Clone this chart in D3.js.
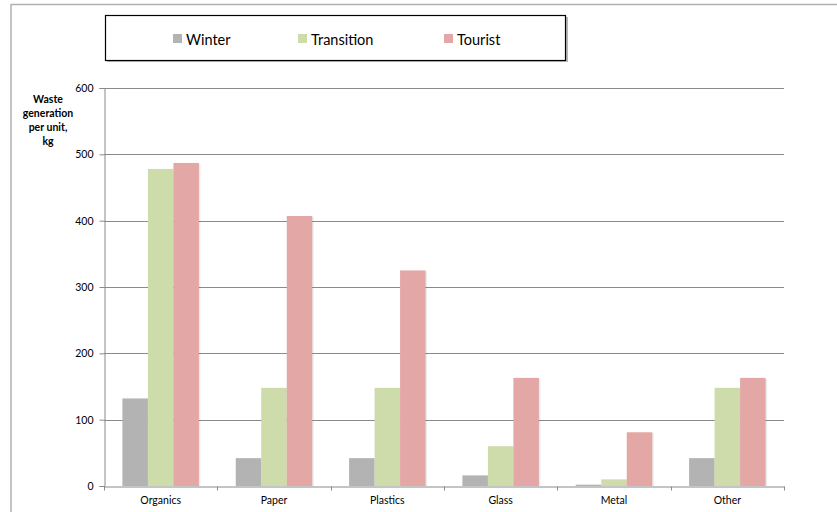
<!DOCTYPE html>
<html>
<head>
<meta charset="utf-8">
<script src="https://cdn.jsdelivr.net/npm/d3@7"></script>
<style>
  html, body { margin: 0; padding: 0; background: #fff; }
  svg { display: block; font-family: "Lato", "Open Sans", sans-serif; }
</style>
</head>
<body>
<svg id="chart" width="837" height="512"></svg>
<script>
// Waste generation per unit by material and season
const categories = ["Organics", "Paper", "Plastics", "Glass", "Metal", "Other"];
const seriesNames = ["Winter", "Transition", "Tourist"];
const winter     = [132, 42, 42, 16, 2, 42];
const transition = [478, 148, 148, 60, 10, 148];
const tourist    = [487, 407, 325, 163, 81, 163];
const yTicks = [0, 100, 200, 300, 400, 500, 600];
const colors = ["#b3b3b3", "#cddcaa", "#e3a8a6"];

const series = [winter, transition, tourist];

const svg = d3.select("#chart");
const W = 837, H = 512;
const plot = { left: 104, right: 784, top: 88, bottom: 486 };

// outer frame (top and left edges visible)
svg.append("line").attr("x1", 11).attr("x2", W).attr("y1", 4.5).attr("y2", 4.5)
  .attr("stroke", "#b0b0b0").attr("stroke-width", 1.5);
svg.append("line").attr("x1", 11).attr("x2", 11).attr("y1", 4).attr("y2", H)
  .attr("stroke", "#b0b0b0").attr("stroke-width", 1.5);

const x = d3.scaleBand().domain(categories).range([plot.left, plot.right]).paddingInner(0).paddingOuter(0);
const y = d3.scaleLinear().domain([0, 600]).range([plot.bottom, plot.top]);

// gridlines
svg.append("g").selectAll("line").data(yTicks.filter(d => d > 0)).join("line")
  .attr("x1", plot.left).attr("x2", plot.right)
  .attr("y1", d => Math.round(y(d)) + 0.5).attr("y2", d => Math.round(y(d)) + 0.5)
  .attr("stroke", "#8a8a8a").attr("stroke-width", 1);

// bars
const groupW = x.bandwidth() * 0.675;
const xs = d3.scaleBand().domain(seriesNames).range([0, groupW]);
const barG = svg.append("g");
categories.forEach((c, i) => {
  const x0 = x(c) + (x.bandwidth() - groupW) / 2;
  seriesNames.forEach((s, j) => {
    const v = series[j][i];
    const bx = x0 + xs(s);
    // soft shadow
    barG.append("rect")
      .attr("x", bx + 1.5).attr("y", y(v) + 1).attr("width", xs.bandwidth())
      .attr("height", y(0) - y(v) - 1).attr("fill", "#000").attr("opacity", 0.08);
    barG.append("rect")
      .attr("x", bx).attr("y", y(v)).attr("width", xs.bandwidth())
      .attr("height", y(0) - y(v)).attr("fill", colors[j]);
  });
});

// y axis
const yAxis = d3.axisLeft(y).tickValues(yTicks).tickSize(5).tickPadding(6);
const ya = svg.append("g").attr("transform", `translate(${plot.left + 0.5},0)`).call(yAxis);
ya.select(".domain").attr("stroke", "#8a8a8a");
ya.selectAll(".tick line").attr("stroke", "#8a8a8a");
ya.selectAll(".tick text").attr("font-size", 10.5).attr("fill", "#000")
  .attr("font-family", "Lato, 'Open Sans', sans-serif");

// x axis
const xa = svg.append("g").attr("transform", `translate(0,${plot.bottom + 0.5})`)
  .call(d3.axisBottom(x).tickSize(0).tickPadding(10));
xa.select(".domain").attr("stroke", "#8a8a8a");
xa.selectAll(".tick text").attr("font-size", 10.5).attr("fill", "#000")
  .attr("font-family", "Lato, 'Open Sans', sans-serif");
// category boundary ticks
const bounds = categories.map(c => x(c)).concat([plot.right]);
xa.append("g").selectAll("line").data(bounds).join("line")
  .attr("x1", d => Math.round(d) + 0.5).attr("x2", d => Math.round(d) + 0.5)
  .attr("y1", 0).attr("y2", 4).attr("stroke", "#8a8a8a");

// y axis title
const yTitle = ["Waste", "generation", "per unit,", "kg"];
svg.append("g").selectAll("text").data(yTitle).join("text")
  .attr("x", 48).attr("y", (d, i) => 102.5 + i * 14.2)
  .attr("text-anchor", "middle").attr("font-size", 10.5).attr("font-weight", "bold")
  .attr("fill", "#000").text(d => d);

// legend
const lg = svg.append("g");
lg.append("rect").attr("x", 107).attr("y", 17).attr("width", 461).attr("height", 45)
  .attr("fill", "#888").attr("opacity", 0.6);
lg.append("rect").attr("x", 105.5).attr("y", 15.5).attr("width", 460).attr("height", 45)
  .attr("fill", "#fff").attr("stroke", "#000").attr("stroke-width", 1.2);
const legendX = [173, 298, 444];
seriesNames.forEach((s, j) => {
  lg.append("rect").attr("x", legendX[j]).attr("y", 34).attr("width", 9).attr("height", 9)
    .attr("fill", colors[j]);
  lg.append("text").attr("x", legendX[j] + 13).attr("y", 44.5)
    .attr("font-size", 14.5).attr("fill", "#000").text(s);
});
</script>
</body>
</html>
